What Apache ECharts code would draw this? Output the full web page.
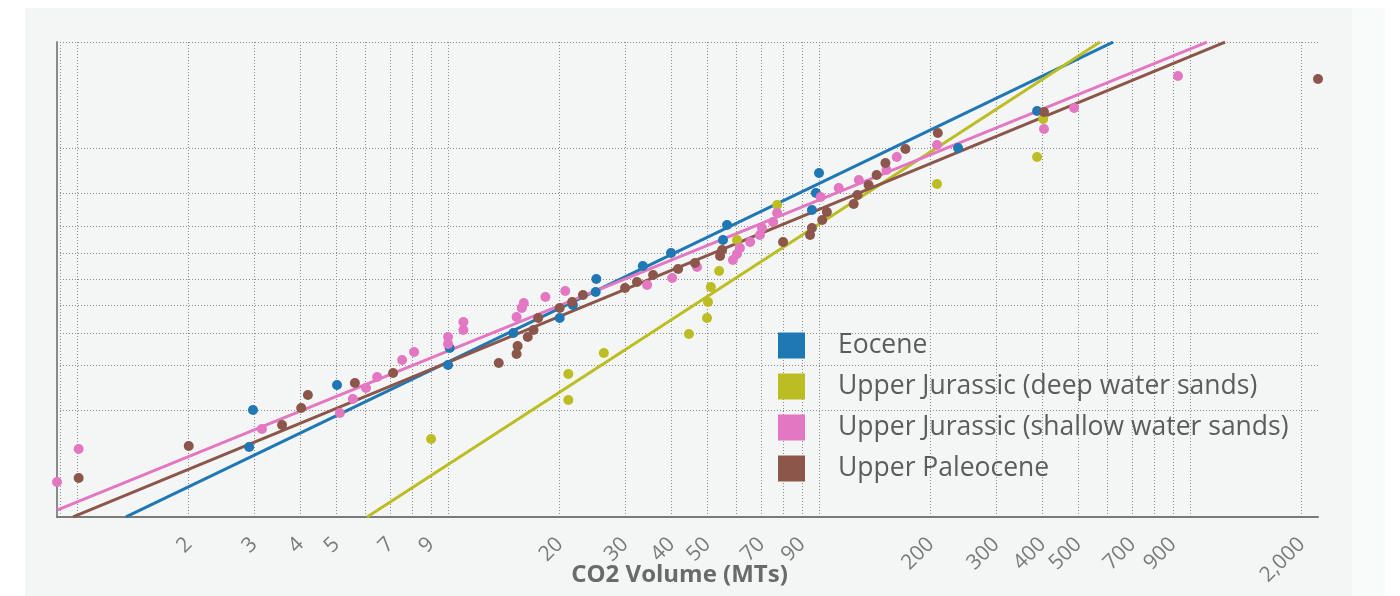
<!DOCTYPE html>
<html><head><meta charset="utf-8">
<script src="https://cdn.jsdelivr.net/npm/echarts@6/dist/echarts.min.js"></script>
<style>
html,body{margin:0;padding:0;background:#ffffff;}
#wrap{position:relative;width:1400px;height:596px;overflow:hidden;}
#panel{position:absolute;left:25px;top:8px;width:1327px;height:588px;background:#f4f6f6;}
#strip{position:absolute;left:1352px;top:8px;width:33px;height:588px;background:#f9fafa;}
#c{position:absolute;left:0;top:0;width:1400px;height:596px;}
</style>
</head><body>
<div id="wrap"><div id="panel"></div><div id="strip"></div><div id="c"></div></div>
<script>
// ---- data (CO2 volume in MTs, y = normal score of cumulative probability) ----
const seriesNames = ['Eocene', 'Upper Jurassic (deep water sands)', 'Upper Jurassic (shallow water sands)', 'Upper Paleocene'];
const seriesColors = ['#1f77b4', '#bcbd22', '#e377c2', '#8c564b'];

const eoceneVolume = [2.91, 2.98, 5.02, 10.0, 10.1, 15.0, 20.0, 21.7, 25.0, 25.1, 33.5, 39.9, 55.1, 56.5, 95.7, 98.1, 100, 237, 387];
const eoceneScore  = [-1.641, -1.278, -1.033, -0.837, -0.671, -0.524, -0.377, -0.250, -0.122, 0.005, 0.132, 0.260, 0.387, 0.534, 0.681, 0.847, 1.043, 1.288, 1.650];

const deepVolume = [9.00, 21.1, 21.1, 26.3, 44.6, 49.9, 50.2, 51.1, 53.8, 60.1, 77.1, 208, 387, 402];
const deepScore  = [-1.562, -1.180, -0.926, -0.720, -0.534, -0.377, -0.220, -0.073, 0.083, 0.387, 0.730, 0.935, 1.200, 1.572];

const shallowVolume = [0.883, 1.01, 3.15, 5.11, 5.54, 6.01, 6.44, 7.52, 8.10, 10.0, 10.0, 11.0, 11.0, 15.3, 15.8, 16.0, 18.3, 20.7, 34.4, 40.2, 46.9, 58.6, 60.1, 61.2, 65.2, 69.3, 70.2, 75.2, 77.1, 101, 113, 128, 152, 162, 208, 404, 487, 928];
const shallowScore  = [-1.983, -1.660, -1.464, -1.308, -1.170, -1.063, -0.955, -0.788, -0.710, -0.632, -0.563, -0.495, -0.416, -0.367, -0.279, -0.230, -0.171, -0.113, -0.054, 0.015, 0.122, 0.191, 0.250, 0.309, 0.367, 0.436, 0.504, 0.563, 0.651, 0.808, 0.896, 0.975, 1.072, 1.200, 1.317, 1.474, 1.680, 1.993];

const paleoVolume = [1.01, 2.00, 3.57, 4.02, 4.19, 5.61, 7.11, 13.7, 15.3, 15.4, 16.4, 17.0, 17.5, 20.0, 21.6, 23.1, 30.0, 32.3, 35.7, 41.7, 46.3, 54.1, 54.8, 80.0, 94.6, 95.7, 102, 105, 124, 127, 136, 143, 151, 171, 209, 404, 2213];
const paleoScore  = [-1.944, -1.631, -1.425, -1.259, -1.131, -1.014, -0.916, -0.818, -0.730, -0.651, -0.563, -0.495, -0.377, -0.279, -0.220, -0.152, -0.083, -0.024, 0.044, 0.103, 0.162, 0.230, 0.289, 0.367, 0.436, 0.504, 0.583, 0.661, 0.739, 0.828, 0.926, 1.024, 1.141, 1.278, 1.435, 1.641, 1.964];

// fitted trend lines (end points)
const eoceneFitVolume = [1.355, 620];   const eoceneFitScore = [-2.326, 2.326];
const deepFitVolume = [6.05, 572];      const deepFitScore = [-2.326, 2.326];
const shallowFitVolume = [0.883, 1111]; const shallowFitScore = [-2.258, 2.326];
const paleoFitVolume = [0.976, 1243];   const paleoFitScore = [-2.326, 2.326];

// axis ticks
const xGridValues = [0.9, 1, 2, 3, 4, 5, 6, 7, 8, 9, 10, 20, 30, 40, 50, 60, 70, 80, 90, 100, 200, 300, 400, 500, 600, 700, 800, 900, 1000, 2000];
const xLabelValues = [2, 3, 4, 5, 7, 9, 20, 30, 40, 50, 70, 90, 200, 300, 400, 500, 700, 900, 2000];
const yGridPercent = [1, 10, 20, 30, 40, 50, 60, 70, 80, 90, 99];
const xAxisTitle = 'CO2 Volume (MTs)';

// ---- helpers ----
function probit(p) {
  const a=[-3.969683028665376e+01,2.209460984245205e+02,-2.759285104469687e+02,1.383577518672690e+02,-3.066479806614716e+01,2.506628277459239e+00];
  const b=[-5.447609879822406e+01,1.615858368580409e+02,-1.556989798598866e+02,6.680131188771972e+01,-1.328068155288572e+01];
  const c=[-7.784894002430293e-03,-3.223964580411365e-01,-2.400758277161838e+00,-2.549732539343734e+00,4.374664141464968e+00,2.938163982698783e+00];
  const d=[7.784695709041462e-03,3.224671290700398e-01,2.445134137142996e+00,3.754408661907416e+00];
  const pl=0.02425, ph=1-pl; let q, r;
  if (p < pl) { q=Math.sqrt(-2*Math.log(p)); return (((((c[0]*q+c[1])*q+c[2])*q+c[3])*q+c[4])*q+c[5])/((((d[0]*q+d[1])*q+d[2])*q+d[3])*q+1); }
  if (p <= ph) { q=p-0.5; r=q*q; return (((((a[0]*r+a[1])*r+a[2])*r+a[3])*r+a[4])*r+a[5])*q/(((((b[0]*r+b[1])*r+b[2])*r+b[3])*r+b[4])*r+1); }
  q=Math.sqrt(-2*Math.log(1-p)); return -(((((c[0]*q+c[1])*q+c[2])*q+c[3])*q+c[4])*q+c[5])/((((d[0]*q+d[1])*q+d[2])*q+d[3])*q+1);
}
const lg = v => Math.log10(v);
const pairs = (xs, ys) => xs.map((x, i) => [lg(x), ys[i]]);

const groups = [
  [eoceneVolume, eoceneScore, eoceneFitVolume, eoceneFitScore],
  [deepVolume, deepScore, deepFitVolume, deepFitScore],
  [shallowVolume, shallowScore, shallowFitVolume, shallowFitScore],
  [paleoVolume, paleoScore, paleoFitVolume, paleoFitScore]
];
const allVolumes = [].concat(eoceneVolume, deepVolume, shallowVolume, paleoVolume);
const xMin = lg(Math.min.apply(null, allVolumes));
const xMax = lg(Math.max.apply(null, allVolumes));
const yMin = probit(yGridPercent[0] / 100);
const yMax = probit(yGridPercent[yGridPercent.length - 1] / 100);

const series = [];
groups.forEach((g, i) => {
  series.push({
    name: seriesNames[i], type: 'line', data: pairs(g[2], g[3]),
    showSymbol: false, symbol: 'none', clip: true, z: 2,
    lineStyle: { color: seriesColors[i], width: 3 }, itemStyle: { color: seriesColors[i] },
    silent: true
  });
});
groups.forEach((g, i) => {
  series.push({
    name: seriesNames[i], type: 'scatter', data: pairs(g[0], g[1]),
    symbolSize: 10, z: 3, itemStyle: { color: seriesColors[i], opacity: 1 }
  });
});

const chart = echarts.init(document.getElementById('c'), null, { renderer: 'canvas' });
chart.setOption({
  animation: false,
  backgroundColor: 'transparent',
  grid: { left: 57, right: 82, top: 42, bottom: 79, containLabel: false, outerBoundsMode: 'none' },
  legend: {
    data: seriesNames.map((n, i) => ({ name: n, icon: 'rect', itemStyle: { color: seriesColors[i] } })),
    orient: 'vertical', left: 778, top: 332, padding: 0,
    itemWidth: 27, itemHeight: 26, itemGap: 14,
    textStyle: { fontSize: 26.5, color: '#5c5c5c', fontFamily: 'Open Sans', padding: [0, 0, 0, 28] },
    selectedMode: false
  },
  xAxis: {
    type: 'value', min: xMin, max: xMax,
    name: xAxisTitle, nameLocation: 'middle', nameGap: 46, nameMoveOverlap: false,
    nameTextStyle: { fontSize: 24, fontWeight: 'bold', color: '#6a6a6a', fontFamily: 'Open Sans', padding: [0, 16, 0, 0] },
    axisLine: { show: true, onZero: false, lineStyle: { color: '#7a7a7a', width: 2 } },
    axisTick: { show: false, customValues: xGridValues.map(lg) },
    splitLine: { show: true, lineStyle: { color: '#8c8c8c', width: 1, type: [1, 2] } },
    axisLabel: {
      customValues: xLabelValues.map(lg), rotate: 45, margin: 24,
      fontSize: 21, color: '#7a7a7a', fontFamily: 'Open Sans',
      formatter: v => Math.round(Math.pow(10, v)).toLocaleString('en-US')
    }
  },
  yAxis: {
    type: 'value', min: yMin, max: yMax,
    axisLine: { show: true, onZero: false, lineStyle: { color: '#8a8a8a', width: 2 } },
    axisTick: { show: false, customValues: yGridPercent.map(p => probit(p / 100)) },
    axisLabel: { show: false },
    splitLine: { show: true, lineStyle: { color: '#8c8c8c', width: 1, type: [1, 2] } }
  },
  tooltip: { show: false },
  series: series
});
</script>
</body></html>
